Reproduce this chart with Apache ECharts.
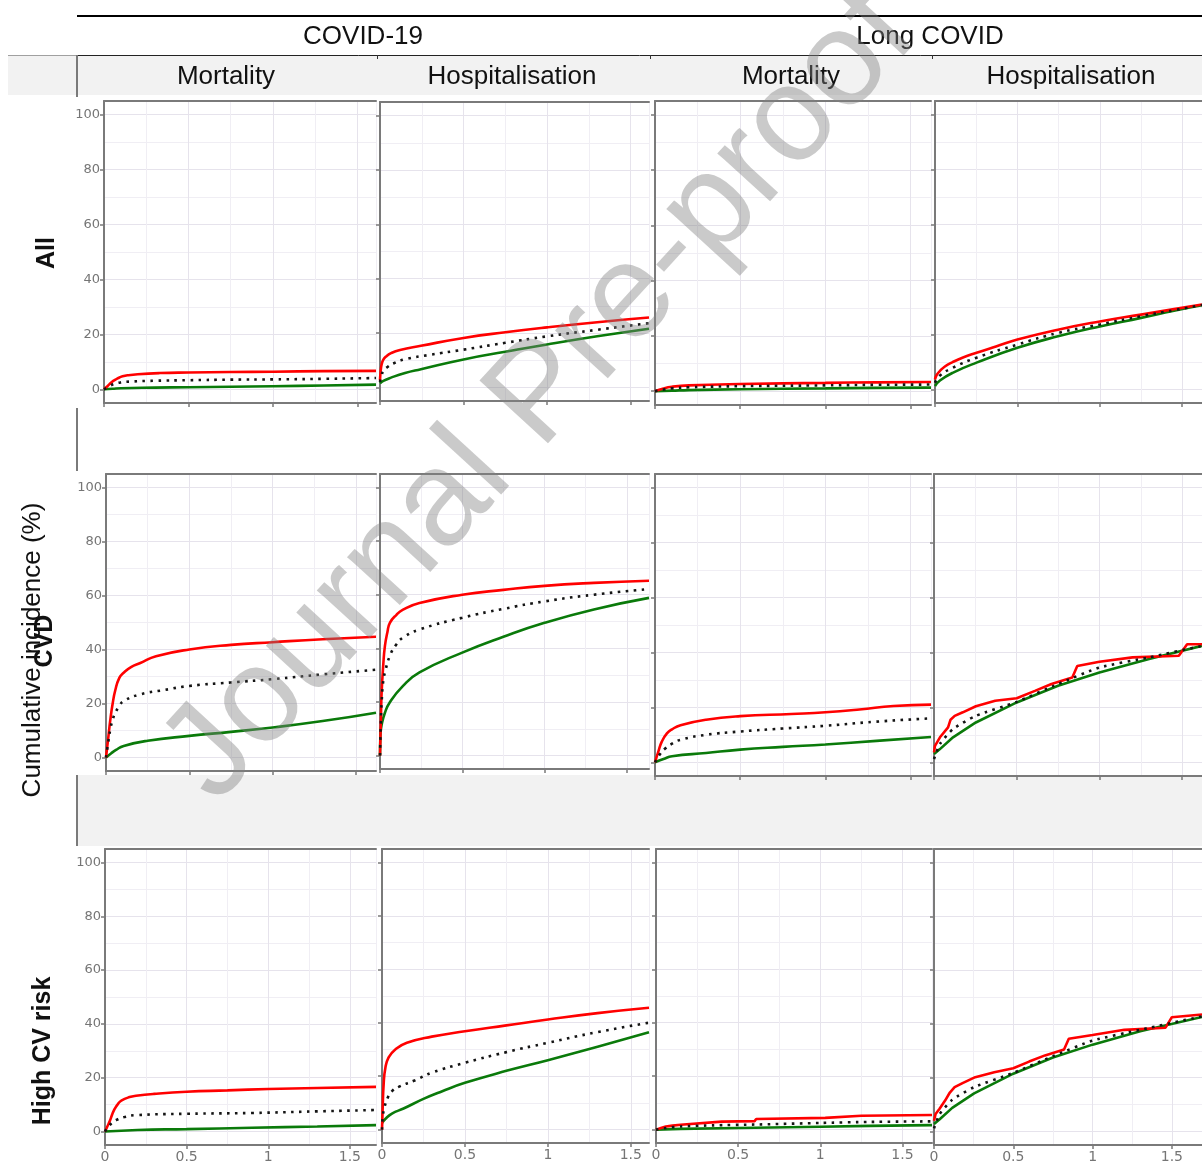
<!DOCTYPE html>
<html>
<head>
<meta charset="utf-8">
<script src="https://cdn.jsdelivr.net/npm/echarts@6/dist/echarts.min.js"></script>
<style>
html,body{margin:0;padding:0;background:#ffffff;}
#chart{width:1202px;height:1164px;}
</style>
</head>
<body>
<div id="chart"></div>
<script>
// ---------------- labels ----------------
const groupTitles = ['COVID-19', 'Long COVID'];
const colTitles = ['Mortality', 'Hospitalisation', 'Mortality', 'Hospitalisation'];
const rowTitles = ['All', 'CVD', 'High CV risk'];
const yTitle = 'Cumulative incidence (%)';
const watermark = 'Journal Pre-proof';
const yTicks = [0, 20, 40, 60, 80, 100];
const xTicks = [0, 0.5, 1, 1.5];

// ---------------- data: [years, cumulative incidence %] ----------------
// Row "All"
const allCovMortRed = [[0,0],[0.015,0.8],[0.03,1.7],[0.05,2.8],[0.065,3.4],[0.085,4.1],[0.11,4.7],[0.14,5.1],[0.2,5.5],[0.33,5.9],[0.5,6.1],[0.75,6.3],[1.0,6.4],[1.3,6.6],[1.61,6.7]];
const allCovMortDot = [[0,0],[0.02,0.7],[0.04,1.4],[0.07,2.1],[0.1,2.5],[0.15,2.8],[0.3,3.1],[0.5,3.3],[0.75,3.5],[1.0,3.6],[1.3,3.8],[1.61,4.1]];
const allCovMortGreen = [[0,0],[0.05,0.2],[0.1,0.4],[0.3,0.6],[0.5,0.75],[0.75,0.9],[1.0,1.1],[1.3,1.4],[1.61,1.7]];

const allCovHospRed = [[0,2.5],[0.004,6],[0.01,8.5],[0.02,10.2],[0.035,11.3],[0.066,12.6],[0.12,13.8],[0.245,15.3],[0.5,18.2],[0.75,20.3],[1.0,22.1],[1.3,24],[1.61,25.7]];
const allCovHospDot = [[0,2],[0.01,4.5],[0.02,6],[0.04,7.3],[0.08,8.8],[0.146,10.3],[0.3,12],[0.5,13.9],[0.75,16.4],[1.0,18.8],[1.3,21.2],[1.61,23.6]];
const allCovHospGreen = [[0,1.5],[0.02,2.4],[0.066,3.6],[0.15,5.3],[0.245,6.7],[0.5,10.3],[0.75,13.1],[1.0,15.8],[1.3,18.8],[1.61,21.6]];

const allLongMortRed = [[0,0],[0.05,1.0],[0.1,1.6],[0.2,2.1],[0.5,2.6],[1.0,3.0],[1.3,3.2],[1.62,3.3]];
const allLongMortDot = [[0,0],[0.05,0.6],[0.1,1.0],[0.2,1.4],[0.5,1.8],[1.0,2.1],[1.3,2.3],[1.62,2.4]];
const allLongMortGreen = [[0,0],[0.1,0.2],[0.2,0.4],[0.5,0.7],[1.0,1.0],[1.3,1.2],[1.62,1.3]];

const allLongHospRed = [[0,3.6],[0.01,5.2],[0.029,6.6],[0.06,8.3],[0.107,9.9],[0.17,11.6],[0.252,13.3],[0.37,15.6],[0.5,18.1],[0.746,21.7],[1.0,24.7],[1.25,27.2],[1.45,29.2],[1.62,30.9]];
const allLongHospDot = [[0,2.4],[0.03,5],[0.107,7.8],[0.252,11.5],[0.5,16.3],[0.746,20.5],[1.0,23.6],[1.25,26.6],[1.45,28.8],[1.62,30.7]];
const allLongHospGreen = [[0,1.2],[0.03,3.2],[0.107,6.0],[0.252,9.7],[0.5,15.1],[0.746,19.3],[1.0,22.9],[1.25,26.0],[1.45,28.6],[1.62,30.6]];

// Row "CVD"
const cvdCovMortRed = [[0,0],[0.013,7],[0.026,14],[0.04,20],[0.056,25],[0.08,29.5],[0.106,31.4],[0.15,33.5],[0.206,35],[0.3,37.5],[0.5,40],[0.75,41.7],[1.0,42.7],[1.3,43.8],[1.62,44.7]];
const cvdCovMortDot = [[0,0],[0.013,5.5],[0.026,10.5],[0.04,14],[0.056,16.6],[0.08,19],[0.106,20.9],[0.206,23.4],[0.35,25],[0.5,26.5],[0.75,27.8],[1.0,29],[1.3,30.8],[1.62,32.5]];
const cvdCovMortGreen = [[0,0],[0.03,1.5],[0.06,2.8],[0.106,4.3],[0.25,6.2],[0.5,8.0],[0.75,9.5],[1.0,11.1],[1.3,13.5],[1.62,16.6]];

const cvdCovHospRed = [[0,0],[0.003,8],[0.006,15],[0.01,23.6],[0.02,34],[0.03,40.9],[0.045,46],[0.06,49.5],[0.1,52.5],[0.14,54.4],[0.24,56.9],[0.5,60],[0.75,61.8],[1.0,63.3],[1.3,64.4],[1.635,65.2]];
const cvdCovHospDot = [[0,0],[0.005,12],[0.01,20],[0.02,28],[0.03,31],[0.06,37.2],[0.1,41.5],[0.14,44],[0.24,47],[0.5,51.4],[0.75,54.7],[1.0,57.5],[1.3,60],[1.635,62.1]];
const cvdCovHospGreen = [[0,0],[0.003,8],[0.01,11.5],[0.03,16],[0.06,19.9],[0.14,26],[0.24,31],[0.5,38.4],[0.75,44.3],[1.0,49.5],[1.3,54.5],[1.635,58.8]];

const cvdLongMortRed = [[0,0],[0.02,4],[0.04,7.5],[0.07,10.5],[0.1,12],[0.15,13.5],[0.3,15.5],[0.5,16.8],[0.8,17.6],[1.0,18.2],[1.2,19.2],[1.4,20.5],[1.62,21]];
const cvdLongMortDot = [[0,0],[0.03,3],[0.06,5],[0.1,6.8],[0.15,8.2],[0.3,10],[0.5,11.2],[0.75,12.3],[1.0,13.3],[1.3,14.8],[1.62,16]];
const cvdLongMortGreen = [[0,0],[0.05,1.2],[0.1,2.2],[0.3,3.4],[0.5,4.6],[0.75,5.6],[1.0,6.5],[1.3,7.8],[1.62,9.2]];

const cvdLongHospRed = [[0,3.6],[0.006,6],[0.036,9.1],[0.085,12.7],[0.1,15.5],[0.125,16.9],[0.174,18.2],[0.253,20.4],[0.37,22.4],[0.5,23.3],[0.61,26],[0.71,28.5],[0.836,30.9],[0.866,35.1],[1.0,36.6],[1.2,38.2],[1.48,38.8],[1.53,43],[1.62,43]];
const cvdLongHospDot = [[0,1.2],[0.036,6.7],[0.115,12.1],[0.253,16.9],[0.5,22],[0.75,28.5],[1.0,34.5],[1.3,38.2],[1.62,42.4]];
const cvdLongHospGreen = [[0,3],[0.036,4.8],[0.115,9.1],[0.253,14.5],[0.5,21.8],[0.75,27.9],[1.0,32.7],[1.3,37.6],[1.62,42.4]];

// Row "High CV risk"
const hcvCovMortRed = [[0,0],[0.015,2],[0.03,4],[0.045,6.5],[0.06,8.5],[0.08,10.3],[0.1,11.5],[0.15,12.8],[0.19,13.3],[0.3,14],[0.5,14.8],[0.75,15.3],[1.0,15.8],[1.3,16.2],[1.66,16.6]];
const hcvCovMortDot = [[0,0],[0.03,2.5],[0.07,4.3],[0.12,5.4],[0.19,6.1],[0.5,6.6],[0.9,6.9],[1.3,7.5],[1.66,8.0]];
const hcvCovMortGreen = [[0,0],[0.2,0.6],[0.5,0.9],[0.9,1.4],[1.3,1.9],[1.66,2.4]];

const hcvCovHospRed = [[0,0],[0.004,8],[0.01,17],[0.02,23],[0.04,27],[0.08,30],[0.15,32.5],[0.3,34.8],[0.5,36.8],[0.75,39],[1.0,41.2],[1.3,43.6],[1.61,45.6]];
const hcvCovHospDot = [[0,0],[0.005,5],[0.016,8.6],[0.035,12],[0.062,14.5],[0.1,16],[0.2,18.5],[0.3,21.3],[0.5,25],[0.75,29],[1.0,32.5],[1.3,36.5],[1.61,40]];
const hcvCovHospGreen = [[0,2.5],[0.02,4],[0.06,6],[0.13,7.9],[0.25,11.5],[0.36,14.3],[0.5,17.5],[0.75,22],[1.0,26],[1.3,31],[1.61,36.4]];

const hcvLongMortRed = [[0,0],[0.03,0.6],[0.06,1.2],[0.1,1.5],[0.15,1.8],[0.16,2.5],[0.4,3.0],[0.6,3.2],[0.61,4.0],[1.03,4.4],[1.04,5.1],[1.25,5.2],[1.26,5.5],[1.68,5.5]];
const hcvLongMortDot = [[0,0],[0.06,0.6],[0.15,1.2],[0.35,1.6],[0.6,1.9],[1.0,2.5],[1.3,2.9],[1.68,3.1]];
const hcvLongMortGreen = [[0,0],[0.15,0.3],[0.5,0.6],[1.0,1.1],[1.3,1.4],[1.68,1.7]];

const hcvLongHospRed = [[0,4],[0.01,6.5],[0.035,8.5],[0.07,11.5],[0.1,14.5],[0.13,16.5],[0.18,18],[0.26,20.2],[0.38,22],[0.5,23.5],[0.6,26],[0.7,28.3],[0.82,30.5],[0.85,34.5],[1.0,35.9],[1.2,37.8],[1.46,38.6],[1.5,42.5],[1.69,43.5]];
const hcvLongHospDot = [[0,1.2],[0.036,6.5],[0.115,11.8],[0.253,16.5],[0.5,21.8],[0.75,28],[1.0,33.8],[1.3,37.8],[1.69,42.8]];
const hcvLongHospGreen = [[0,2.8],[0.036,4.6],[0.115,8.8],[0.253,14.2],[0.5,21.5],[0.75,27.5],[1.0,32.3],[1.3,37.3],[1.69,42.6]];

// ---------------- panel assembly ----------------
const panels = [
  {red: allCovMortRed, dot: allCovMortDot, green: allCovMortGreen, smooth: true},
  {red: allCovHospRed, dot: allCovHospDot, green: allCovHospGreen, smooth: true},
  {red: allLongMortRed, dot: allLongMortDot, green: allLongMortGreen, smooth: true},
  {red: allLongHospRed, dot: allLongHospDot, green: allLongHospGreen, smooth: true},
  {red: cvdCovMortRed, dot: cvdCovMortDot, green: cvdCovMortGreen, smooth: true},
  {red: cvdCovHospRed, dot: cvdCovHospDot, green: cvdCovHospGreen, smooth: true},
  {red: cvdLongMortRed, dot: cvdLongMortDot, green: cvdLongMortGreen, smooth: true},
  {red: cvdLongHospRed, dot: cvdLongHospDot, green: cvdLongHospGreen, smooth: false},
  {red: hcvCovMortRed, dot: hcvCovMortDot, green: hcvCovMortGreen, smooth: true},
  {red: hcvCovHospRed, dot: hcvCovHospDot, green: hcvCovHospGreen, smooth: true},
  {red: hcvLongMortRed, dot: hcvLongMortDot, green: hcvLongMortGreen, smooth: false},
  {red: hcvLongHospRed, dot: hcvLongHospDot, green: hcvLongHospGreen, smooth: false}
];

// panel geometry (pixels)
const layoutCfg = [
  {left:104, top:101, width:272, height:302, xmax:1.61},
  {left:380, top:102, width:269, height:299, xmax:1.61},
  {left:655, top:101, width:276, height:304, xmax:1.62},
  {left:935, top:101, width:279, height:302, xmax:1.62},
  {left:106, top:474, width:270, height:297, xmax:1.62},
  {left:380, top:474, width:269, height:295, xmax:1.635},
  {left:655, top:474, width:276, height:302, xmax:1.62},
  {left:934, top:474, width:274, height:302, xmax:1.62},
  {left:105, top:849, width:271, height:296, xmax:1.66},
  {left:382, top:849, width:267, height:294, xmax:1.61},
  {left:656, top:849, width:276, height:294, xmax:1.68},
  {left:934, top:849, width:282, height:296, xmax:1.69}
];

const FRAME = '#7a7a7a';
const GRID_MAJOR = '#e6e3ec';
const GRID_MINOR = '#f0eef4';
const LABEL = '#757575';
const NONE = 'rgba(0,0,0,0)';
const RED = '#ff0000';
const GREEN = '#0a7a0a';
const DOT = '#141414';

const grid = [], xAxis = [], yAxis = [], series = [];
panels.forEach((P, i) => {
  const L = layoutCfg[i];
  const row = Math.floor(i / 4), col = i % 4;
  grid.push({left: L.left, top: L.top, width: L.width, height: L.height, containLabel: false});
  // x: grid lines + bottom frame
  xAxis.push({gridIndex: i, type: 'value', min: 0, max: L.xmax, interval: 0.25, position: 'bottom',
    axisLine: {show: true, onZero: false, lineStyle: {color: FRAME, width: 2}},
    axisTick: {show: false}, axisLabel: {show: false},
    splitLine: {show: true, lineStyle: {color: [GRID_MAJOR, GRID_MINOR], width: 1}}});
  // x: ticks + labels
  xAxis.push({gridIndex: i, type: 'value', min: 0, max: L.xmax, interval: 0.5, position: 'bottom',
    axisLine: {show: false, onZero: false},
    axisTick: {show: true, length: 4, customValues: xTicks, lineStyle: {color: FRAME, width: 1.5}},
    axisLabel: {show: row === 2, customValues: xTicks, margin: 5, color: LABEL, fontSize: 14, fontFamily: 'DejaVu Sans',
      formatter: v => (xTicks.indexOf(v) >= 0 ? String(v) : '')},
    splitLine: {show: false}});
  // x: top frame
  xAxis.push({gridIndex: i, type: 'value', min: 0, max: L.xmax, position: 'top',
    axisLine: {show: true, onZero: false, lineStyle: {color: FRAME, width: 2}},
    axisTick: {show: false}, axisLabel: {show: false}, splitLine: {show: false}});
  // y: grid lines + left frame
  yAxis.push({gridIndex: i, type: 'value', min: -5, max: 105, interval: 5, position: 'left',
    axisLine: {show: true, onZero: false, lineStyle: {color: FRAME, width: 2}},
    axisTick: {show: false}, axisLabel: {show: false},
    splitLine: {show: true, lineStyle: {color: [NONE, GRID_MAJOR, NONE, GRID_MINOR], width: 1}}});
  // y: ticks + labels
  yAxis.push({gridIndex: i, type: 'value', min: -5, max: 105, position: 'left',
    axisLine: {show: false, onZero: false},
    axisTick: {show: true, length: 4, customValues: yTicks, lineStyle: {color: FRAME, width: 1.5}},
    axisLabel: {show: col === 0, customValues: yTicks, margin: 4, color: LABEL, fontSize: 13, fontFamily: 'DejaVu Sans',
      formatter: v => (yTicks.indexOf(v) >= 0 ? String(v) : '')},
    splitLine: {show: false}});

  const base = {type: 'line', xAxisIndex: 3 * i, yAxisIndex: 2 * i, showSymbol: false, symbol: 'none',
    silent: true, animation: false, clip: true};
  const sm = P.smooth ? 0.5 : false;
  series.push(Object.assign({}, base, {name: 'green' + i, data: P.green, smooth: sm,
    lineStyle: {color: GREEN, width: 2.6}, z: 3}));
  series.push(Object.assign({}, base, {name: 'red' + i, data: P.red, smooth: sm,
    lineStyle: {color: RED, width: 2.6}, z: 4}));
  series.push(Object.assign({}, base, {name: 'dot' + i, data: P.dot, smooth: P.smooth ? 0.5 : 0.2,
    lineStyle: {color: DOT, width: 2.6, type: [2.6, 5.4], cap: 'butt'}, z: 5}));
});

// ---------------- decorations ----------------
function txt(text, x, y, size, weight, rot, extra) {
  return Object.assign({
    type: 'text', x: x, y: y, rotation: rot || 0, z: 50,
    style: {text: text, fill: '#111111', fontSize: size, fontWeight: weight || 'normal',
      fontFamily: '"Liberation Sans", Arial, sans-serif',
      align: 'center', verticalAlign: 'middle', textAlign: 'center', textVerticalAlign: 'middle'}
  }, extra || {});
}
function ln(x1, y1, x2, y2, color, w) {
  return {type: 'line', z: 40, shape: {x1: x1, y1: y1, x2: x2, y2: y2}, style: {stroke: color, lineWidth: w}};
}
const graphics = [
  {type: 'rect', z: -10, shape: {x: 8, y: 55, width: 1194, height: 40}, style: {fill: '#f2f2f2'}},
  {type: 'rect', z: -10, shape: {x: 77, y: 775, width: 1125, height: 71}, style: {fill: '#f2f2f2'}},
  ln(77, 16, 1202, 16, '#000000', 2),
  ln(8, 55.5, 77, 55.5, '#a0a0a0', 1),
  ln(77, 55.5, 1202, 55.5, '#222222', 1),
  ln(77, 55, 77, 97, '#7a7a7a', 2),
  ln(377.5, 55, 377.5, 59, '#333333', 1),
  ln(650.5, 55, 650.5, 59, '#333333', 1),
  ln(932.5, 55, 932.5, 59, '#333333', 1),
  ln(77, 408, 77, 471, '#7a7a7a', 2),
  ln(77, 775, 77, 846, '#7a7a7a', 2),
  txt(groupTitles[0], 363, 37, 26),
  txt(groupTitles[1], 930, 37, 26),
  txt(colTitles[0], 226, 77, 26),
  txt(colTitles[1], 512, 77, 26),
  txt(colTitles[2], 791, 77, 26),
  txt(colTitles[3], 1071, 77, 26),
  txt(rowTitles[0], 47, 253, 25, 'bold', Math.PI / 2),
  txt(rowTitles[1], 45, 641, 25, 'bold', Math.PI / 2),
  txt(rowTitles[2], 43, 1051, 25, 'bold', Math.PI / 2),
  txt(yTitle, 33, 650, 26, 'normal', Math.PI / 2),
  txt(watermark, 541, 396, 135, 'normal', 0.829, {z: 200})
];
graphics[graphics.length - 1].style.fill = 'rgba(128,128,128,0.42)';

const chart = echarts.init(document.getElementById('chart'), null, {renderer: 'canvas'});
chart.setOption({
  animation: false,
  backgroundColor: '#ffffff',
  grid: grid,
  xAxis: xAxis,
  yAxis: yAxis,
  series: series,
  graphic: {elements: graphics}
});
</script>
</body>
</html>
